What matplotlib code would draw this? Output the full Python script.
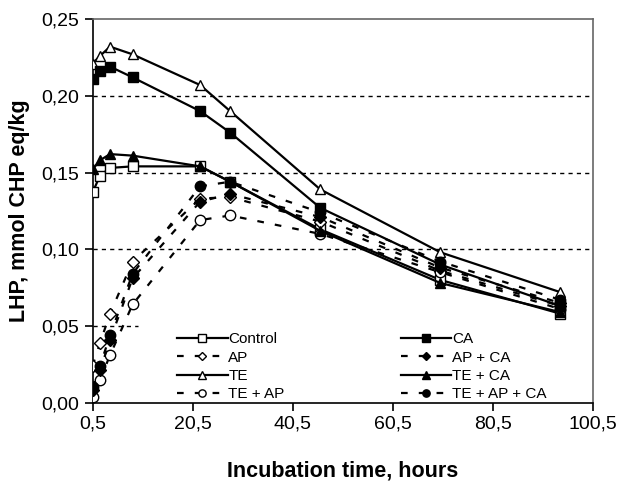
import numpy as np
import matplotlib
matplotlib.use("Agg")
import matplotlib.pyplot as plt

plt.rcParams['font.family'] = ['Liberation Sans', 'DejaVu Sans']

# incubation times (hours) as plotted
times = [0.5, 2, 4, 8.5, 22, 28, 46, 70, 94]

# LHP, mmol CHP eq/kg
control = [0.137, 0.148, 0.153, 0.154, 0.154, 0.144, 0.113, 0.080, 0.058]
ap = [0.024, 0.039, 0.058, 0.092, 0.133, 0.134, 0.118, 0.086, 0.063]
te = [0.221, 0.226, 0.232, 0.227, 0.207, 0.190, 0.139, 0.098, 0.072]
te_ap = [0.004, 0.015, 0.031, 0.064, 0.119, 0.122, 0.110, 0.085, 0.061]
ca = [0.211, 0.216, 0.219, 0.212, 0.190, 0.176, 0.127, 0.090, 0.063]
ap_ca = [0.008, 0.021, 0.041, 0.081, 0.131, 0.136, 0.121, 0.088, 0.065]
te_ca = [0.152, 0.158, 0.162, 0.161, 0.154, 0.144, 0.112, 0.078, 0.059]
te_ap_ca = [0.010, 0.024, 0.044, 0.084, 0.141, 0.144, 0.124, 0.092, 0.067]

xticks = [0.5, 20.5, 40.5, 60.5, 80.5, 100.5]
yticks = [0.0, 0.05, 0.10, 0.15, 0.20, 0.25]

fig = plt.figure(figsize=(6.17, 4.82), dpi=100)
ax = fig.add_axes([0.15, 0.1645, 0.811, 0.796])

# dotted reference lines (the 0,05 one is hidden behind the legend)
for yv in yticks[1:-1]:
    xmax = 0.09 if yv == 0.05 else 1
    ax.axhline(yv, xmax=xmax, color='black', lw=1.0, ls=(0, (3, 3)), zorder=1)

solid = '-'
dash = (0, (3, 5))
series = [
    (control, 'Control', solid, 's', 'white'),
    (ap, 'AP', dash, 'D', 'white'),
    (te, 'TE', solid, '^', 'white'),
    (te_ap, 'TE + AP', dash, 'o', 'white'),
    (ca, 'CA', solid, 's', 'black'),
    (ap_ca, 'AP + CA', dash, 'D', 'black'),
    (te_ca, 'TE + CA', solid, '^', 'black'),
    (te_ap_ca, 'TE + AP + CA', dash, 'o', 'black'),
]
for vals, lab, ls, mk, fc in series:
    ms = 6.5 if mk == 'D' else 7.5
    ax.plot(times, vals, color='black', lw=1.6, ls=ls, marker=mk, ms=ms,
            mfc=fc, mec='black', mew=1.0, label=lab, zorder=3)

ax.set_xlim(0.5, 100.5)
ax.set_ylim(0, 0.25)
ax.set_xticks(xticks)
ax.set_xticklabels([f"{v:.1f}".replace('.', ',') for v in xticks])
ax.set_yticks(yticks)
ax.set_yticklabels([f"{v:.2f}".replace('.', ',') for v in yticks])
ax.tick_params(labelsize=14, length=6, width=1.2, direction='out')

for s in ['left', 'bottom']:
    ax.spines[s].set_linewidth(1.2)
for s in ['top', 'right']:
    ax.spines[s].set_color('#666666')
    ax.spines[s].set_linewidth(1.2)

ax.set_ylabel('LHP, mmol CHP eq/kg', fontsize=15.5, fontweight='bold', labelpad=8)
ax.set_xlabel('Incubation time, hours', fontsize=15.5, fontweight='bold', labelpad=20)

leg = ax.legend(ncol=2, loc='lower left', bbox_to_anchor=(0.169, 0.004),
                fontsize=11, frameon=False, handlelength=3.3,
                handletextpad=0.05, labelspacing=0.28, columnspacing=7.6,
                markerscale=0.7, borderpad=0, borderaxespad=0)

fig.savefig('out.png', dpi=100)
